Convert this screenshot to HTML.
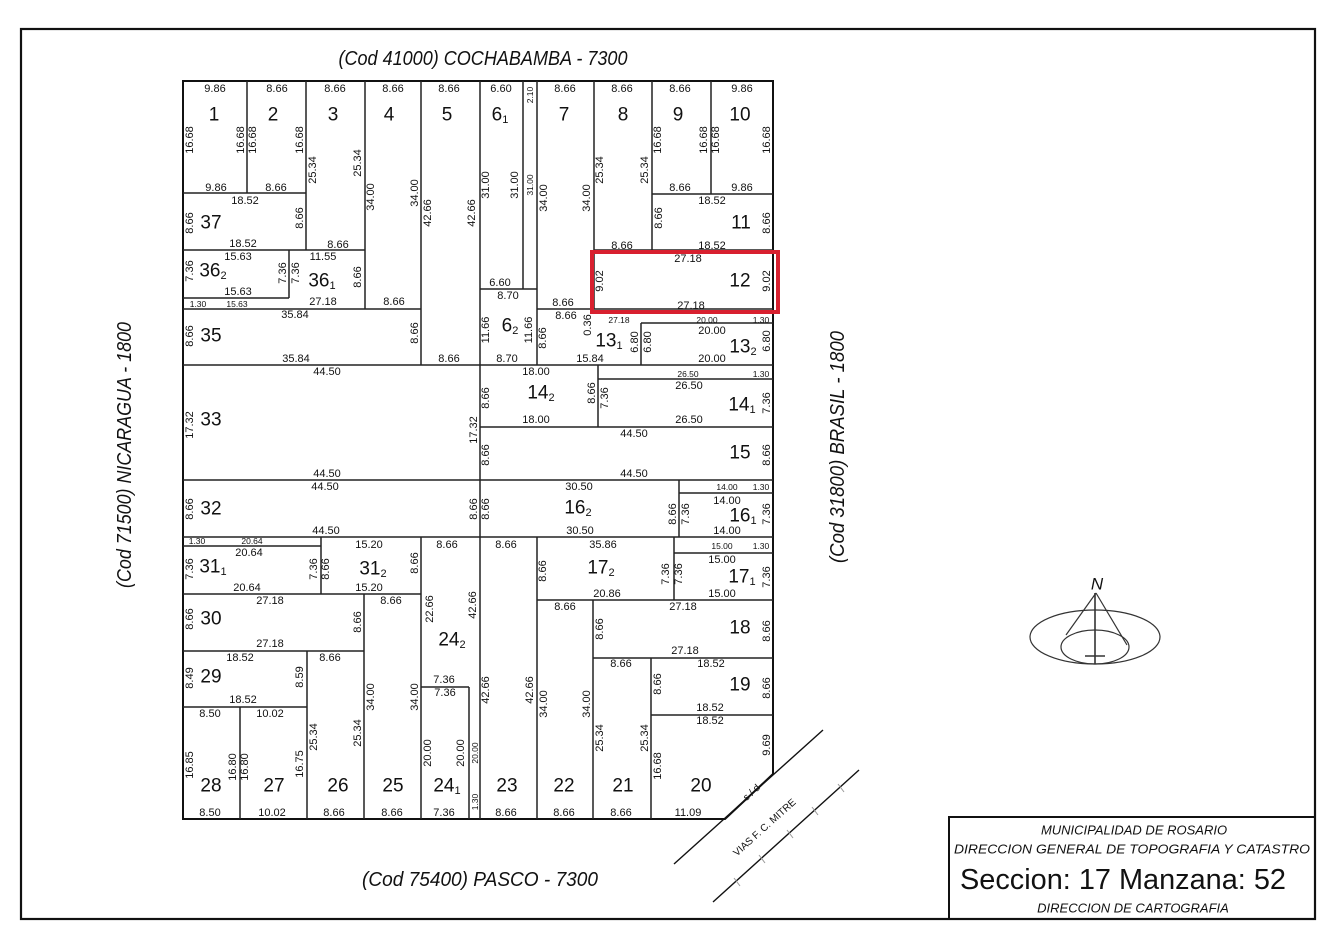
<!DOCTYPE html>
<html><head><meta charset="utf-8"><style>
html,body{margin:0;padding:0;background:#fff;width:1344px;height:950px;overflow:hidden}
svg{display:block}
text{font-family:"Liberation Sans Narrow","Liberation Sans",sans-serif;fill:#111}
.d{font-size:11px;text-anchor:middle;dominant-baseline:central}
.s{font-size:8.5px;text-anchor:middle;dominant-baseline:central}
.n{font-size:19px;text-anchor:middle;dominant-baseline:central}
.t{font-size:20px;font-style:italic;text-anchor:middle;dominant-baseline:central}
.h{font-size:13px;font-style:italic;text-anchor:middle;dominant-baseline:central}
.b{font-size:29px;text-anchor:middle;dominant-baseline:central}
.l{stroke:#222;stroke-width:1.5;fill:none}
</style></head><body>
<svg width="1344" height="950" viewBox="0 0 1344 950" xmlns="http://www.w3.org/2000/svg">
<rect x="21" y="29" width="1294" height="890" fill="none" stroke="#111" stroke-width="2.2"/>
<polygon points="183,81 773,81 773,774 725,819 183,819" fill="none" stroke="#111" stroke-width="2"/>
<path class="l" d="M247 81V193M306 81V250M183 193H306M183 250H365M365 81V309M421 81V365M183 298H289M289 250V298M183 309H421
M480 81V819M523 81V289M537 81V365M480 289H537M594 81V309M652 81V250M652 194H773M711 81V194M594 250H773M537 309H773M641 323H773M641 323V365M183 365H773
M598 365V427M598 379H773M480 427H773M183 480H773M679 480V537M679 493H773M183 537H773M183 546H321M321 537V594M421 537V819M537 537V819M674 537V600M674 553H773M183 594H421M537 600H773
M364 594V819M183 651H364M307 651V819M183 707H307M240 707V819M421 687H469M469 687V819M593 600V819M593 658H773M651 658V819M651 715H773"/>
<rect x="592" y="252" width="186" height="60" fill="none" stroke="#d8202f" stroke-width="4"/>
<!-- railway -->
<line x1="674" y1="864" x2="823" y2="730" stroke="#111" stroke-width="1.4"/>
<line x1="713" y1="902" x2="859" y2="770" stroke="#111" stroke-width="1.4"/>
<g stroke="#999" stroke-width="1"><line x1="734" y1="878" x2="740" y2="886"/><line x1="759" y1="855" x2="765" y2="863"/><line x1="787" y1="830" x2="793" y2="838"/><line x1="812" y1="807" x2="818" y2="815"/><line x1="838" y1="784" x2="844" y2="792"/></g>
<text class="d" x="765" y="828" transform="rotate(-42 765 828)" style="font-size:10px">VIAS F. C. MITRE</text>
<text class="d" x="752" y="793" transform="rotate(-42 752 793)" style="font-size:10px">s / d</text>
<!-- streets -->
<text class="t" x="483" y="59" textLength="289" lengthAdjust="spacingAndGlyphs">(Cod  41000)  COCHABAMBA - 7300</text>
<text class="t" x="480" y="880" textLength="236" lengthAdjust="spacingAndGlyphs">(Cod  75400)  PASCO - 7300</text>
<text class="t" x="125" y="455" transform="rotate(-90 125 455)" textLength="266" lengthAdjust="spacingAndGlyphs">(Cod  71500)  NICARAGUA - 1800</text>
<text class="t" x="838" y="447" transform="rotate(-90 838 447)" textLength="232" lengthAdjust="spacingAndGlyphs">(Cod  31800)  BRASIL - 1800</text>
<!-- compass -->
<g stroke="#333" stroke-width="1.2" fill="none">
<ellipse cx="1095" cy="637" rx="65" ry="27"/><ellipse cx="1095" cy="647" rx="34" ry="17"/>
<line x1="1096" y1="593" x2="1066" y2="635"/><line x1="1096" y1="593" x2="1127" y2="645"/>
<line x1="1095" y1="593" x2="1095" y2="664" stroke-width="1.6"/><line x1="1085" y1="656" x2="1105" y2="656" stroke-width="1.6"/>
</g>
<text x="1097" y="584" style="font-size:17px;text-anchor:middle;dominant-baseline:central;font-style:italic">N</text>
<!-- title box -->
<rect x="949" y="817" width="366" height="102" fill="none" stroke="#111" stroke-width="2"/>
<text class="h" x="1134" y="830">MUNICIPALIDAD DE ROSARIO</text>
<text class="h" x="1132" y="849" textLength="356" lengthAdjust="spacingAndGlyphs">DIRECCION GENERAL DE TOPOGRAFIA Y CATASTRO</text>
<text class="b" x="1123" y="880" textLength="326" lengthAdjust="spacingAndGlyphs">Seccion: 17  Manzana: 52</text>
<text class="h" x="1133" y="908">DIRECCION DE CARTOGRAFIA</text>
<!-- top row -->
<g class="d">
<text class="d" x="215" y="89">9.86</text><text class="d" x="277" y="89">8.66</text><text class="d" x="335" y="89">8.66</text><text class="d" x="393" y="89">8.66</text><text class="d" x="449" y="89">8.66</text><text class="d" x="501" y="89">6.60</text><text class="d" x="565" y="89">8.66</text><text class="d" x="622" y="89">8.66</text><text class="d" x="680" y="89">8.66</text><text class="d" x="742" y="89">9.86</text>
<text class="d" x="216" y="188">9.86</text><text class="d" x="276" y="188">8.66</text><text class="d" x="680" y="188">8.66</text><text class="d" x="742" y="188">9.86</text>
<text class="d" x="245" y="201">18.52</text><text class="d" x="243" y="244">18.52</text><text class="d" x="338" y="245">8.66</text>
<text class="d" x="712" y="201">18.52</text><text class="d" x="622" y="246">8.66</text><text class="d" x="712" y="246">18.52</text>
<text class="d" x="238" y="257">15.63</text><text class="d" x="238" y="292">15.63</text><text class="d" x="323" y="257">11.55</text><text class="d" x="323" y="302">27.18</text>
<text class="s" x="198" y="304">1.30</text><text class="s" x="237" y="304">15.63</text><text class="d" x="394" y="302">8.66</text>
<text class="d" x="500" y="283">6.60</text><text class="d" x="508" y="296">8.70</text><text class="d" x="563" y="303">8.66</text>
<text class="d" x="688" y="259">27.18</text><text class="d" x="691" y="306">27.18</text>
<text class="d" x="295" y="315">35.84</text><text class="d" x="296" y="359">35.84</text><text class="d" x="449" y="359">8.66</text>
<text class="d" x="566" y="316">8.66</text><text class="s" x="619" y="320">27.18</text><text class="d" x="507" y="359">8.70</text><text class="d" x="590" y="359">15.84</text>
<text class="s" x="707" y="320">20.00</text><text class="s" x="761" y="320">1.30</text><text class="d" x="712" y="331">20.00</text><text class="d" x="712" y="359">20.00</text>
<text class="d" x="327" y="372">44.50</text><text class="d" x="536" y="372">18.00</text><text class="s" x="688" y="374">26.50</text><text class="s" x="761" y="374">1.30</text>
<text class="d" x="689" y="386">26.50</text><text class="d" x="536" y="420">18.00</text><text class="d" x="689" y="420">26.50</text><text class="d" x="634" y="434">44.50</text>
<text class="d" x="327" y="474">44.50</text><text class="d" x="634" y="474">44.50</text>
<text class="d" x="325" y="487">44.50</text><text class="d" x="579" y="487">30.50</text><text class="s" x="727" y="487">14.00</text><text class="s" x="761" y="487">1.30</text>
<text class="d" x="727" y="501">14.00</text><text class="d" x="326" y="531">44.50</text><text class="d" x="580" y="531">30.50</text><text class="d" x="727" y="531">14.00</text>
<text class="s" x="197" y="541">1.30</text><text class="s" x="252" y="541">20.64</text><text class="d" x="369" y="545">15.20</text><text class="d" x="447" y="545">8.66</text><text class="d" x="506" y="545">8.66</text><text class="d" x="603" y="545">35.86</text><text class="s" x="722" y="546">15.00</text><text class="s" x="761" y="546">1.30</text>
<text class="d" x="249" y="553">20.64</text><text class="d" x="247" y="588">20.64</text><text class="d" x="369" y="588">15.20</text>
<text class="d" x="722" y="560">15.00</text><text class="d" x="607" y="594">20.86</text><text class="d" x="722" y="594">15.00</text>
<text class="d" x="270" y="601">27.18</text><text class="d" x="391" y="601">8.66</text><text class="d" x="270" y="644">27.18</text>
<text class="d" x="565" y="607">8.66</text><text class="d" x="683" y="607">27.18</text><text class="d" x="685" y="651">27.18</text>
<text class="d" x="240" y="658">18.52</text><text class="d" x="330" y="658">8.66</text><text class="d" x="243" y="700">18.52</text>
<text class="d" x="621" y="664">8.66</text><text class="d" x="711" y="664">18.52</text><text class="d" x="710" y="708">18.52</text><text class="d" x="710" y="721">18.52</text>
<text class="d" x="444" y="680">7.36</text><text class="d" x="445" y="693">7.36</text>
<text class="d" x="210" y="714">8.50</text><text class="d" x="270" y="714">10.02</text>
<text class="d" x="210" y="813">8.50</text><text class="d" x="272" y="813">10.02</text><text class="d" x="334" y="813">8.66</text><text class="d" x="392" y="813">8.66</text><text class="d" x="444" y="813">7.36</text><text class="d" x="506" y="813">8.66</text><text class="d" x="564" y="813">8.66</text><text class="d" x="621" y="813">8.66</text><text class="d" x="688" y="813">11.09</text>
</g>
<!-- vertical dims -->
<g>
<text class="s" x="530" y="95" transform="rotate(-90 530 95)">2.10</text>
<text class="d" x="190" y="140" transform="rotate(-90 190 140)">16.68</text><text class="d" x="241" y="140" transform="rotate(-90 241 140)">16.68</text><text class="d" x="253" y="140" transform="rotate(-90 253 140)">16.68</text><text class="d" x="300" y="140" transform="rotate(-90 300 140)">16.68</text>
<text class="d" x="313" y="170" transform="rotate(-90 313 170)">25.34</text><text class="d" x="358" y="163" transform="rotate(-90 358 163)">25.34</text>
<text class="d" x="371" y="197" transform="rotate(-90 371 197)">34.00</text><text class="d" x="415" y="193" transform="rotate(-90 415 193)">34.00</text>
<text class="d" x="428" y="213" transform="rotate(-90 428 213)">42.66</text><text class="d" x="472" y="213" transform="rotate(-90 472 213)">42.66</text>
<text class="d" x="486" y="185" transform="rotate(-90 486 185)">31.00</text><text class="d" x="515" y="185" transform="rotate(-90 515 185)">31.00</text><text class="s" x="530" y="185" transform="rotate(-90 530 185)">31.00</text>
<text class="d" x="544" y="198" transform="rotate(-90 544 198)">34.00</text><text class="d" x="587" y="198" transform="rotate(-90 587 198)">34.00</text>
<text class="d" x="600" y="170" transform="rotate(-90 600 170)">25.34</text><text class="d" x="645" y="170" transform="rotate(-90 645 170)">25.34</text>
<text class="d" x="658" y="140" transform="rotate(-90 658 140)">16.68</text><text class="d" x="704" y="140" transform="rotate(-90 704 140)">16.68</text><text class="d" x="716" y="140" transform="rotate(-90 716 140)">16.68</text><text class="d" x="767" y="140" transform="rotate(-90 767 140)">16.68</text>
<text class="d" x="190" y="223" transform="rotate(-90 190 223)">8.66</text><text class="d" x="300" y="218" transform="rotate(-90 300 218)">8.66</text>
<text class="d" x="659" y="218" transform="rotate(-90 659 218)">8.66</text><text class="d" x="767" y="223" transform="rotate(-90 767 223)">8.66</text>
<text class="d" x="190" y="271" transform="rotate(-90 190 271)">7.36</text><text class="d" x="283" y="273" transform="rotate(-90 283 273)">7.36</text><text class="d" x="296" y="273" transform="rotate(-90 296 273)">7.36</text><text class="d" x="358" y="277" transform="rotate(-90 358 277)">8.66</text>
<text class="d" x="600" y="281" transform="rotate(-90 600 281)">9.02</text><text class="d" x="767" y="281" transform="rotate(-90 767 281)">9.02</text>
<text class="d" x="190" y="336" transform="rotate(-90 190 336)">8.66</text><text class="d" x="415" y="333" transform="rotate(-90 415 333)">8.66</text>
<text class="d" x="486" y="330" transform="rotate(-90 486 330)">11.66</text><text class="d" x="529" y="330" transform="rotate(-90 529 330)">11.66</text><text class="d" x="543" y="338" transform="rotate(-90 543 338)">8.66</text><text class="d" x="588" y="325" transform="rotate(-90 588 325)">0.36</text>
<text class="d" x="635" y="342" transform="rotate(-90 635 342)">6.80</text><text class="d" x="648" y="342" transform="rotate(-90 648 342)">6.80</text><text class="d" x="767" y="341" transform="rotate(-90 767 341)">6.80</text>
<text class="d" x="486" y="398" transform="rotate(-90 486 398)">8.66</text><text class="d" x="592" y="393" transform="rotate(-90 592 393)">8.66</text><text class="d" x="605" y="398" transform="rotate(-90 605 398)">7.36</text><text class="d" x="767" y="403" transform="rotate(-90 767 403)">7.36</text>
<text class="d" x="190" y="425" transform="rotate(-90 190 425)">17.32</text><text class="d" x="474" y="430" transform="rotate(-90 474 430)">17.32</text>
<text class="d" x="486" y="455" transform="rotate(-90 486 455)">8.66</text><text class="d" x="767" y="455" transform="rotate(-90 767 455)">8.66</text>
<text class="d" x="190" y="509" transform="rotate(-90 190 509)">8.66</text><text class="d" x="474" y="509" transform="rotate(-90 474 509)">8.66</text><text class="d" x="486" y="509" transform="rotate(-90 486 509)">8.66</text>
<text class="d" x="673" y="514" transform="rotate(-90 673 514)">8.66</text><text class="d" x="686" y="514" transform="rotate(-90 686 514)">7.36</text><text class="d" x="767" y="514" transform="rotate(-90 767 514)">7.36</text>
<text class="d" x="190" y="569" transform="rotate(-90 190 569)">7.36</text><text class="d" x="314" y="569" transform="rotate(-90 314 569)">7.36</text><text class="d" x="326" y="569" transform="rotate(-90 326 569)">8.66</text><text class="d" x="415" y="563" transform="rotate(-90 415 563)">8.66</text>
<text class="d" x="543" y="571" transform="rotate(-90 543 571)">8.66</text><text class="d" x="666" y="574" transform="rotate(-90 666 574)">7.36</text><text class="d" x="679" y="574" transform="rotate(-90 679 574)">7.36</text><text class="d" x="767" y="577" transform="rotate(-90 767 577)">7.36</text>
<text class="d" x="430" y="609" transform="rotate(-90 430 609)">22.66</text><text class="d" x="473" y="605" transform="rotate(-90 473 605)">42.66</text>
<text class="d" x="190" y="619" transform="rotate(-90 190 619)">8.66</text><text class="d" x="358" y="622" transform="rotate(-90 358 622)">8.66</text>
<text class="d" x="600" y="629" transform="rotate(-90 600 629)">8.66</text><text class="d" x="767" y="631" transform="rotate(-90 767 631)">8.66</text>
<text class="d" x="190" y="678" transform="rotate(-90 190 678)">8.49</text><text class="d" x="300" y="677" transform="rotate(-90 300 677)">8.59</text>
<text class="d" x="658" y="684" transform="rotate(-90 658 684)">8.66</text><text class="d" x="767" y="688" transform="rotate(-90 767 688)">8.66</text>
<text class="d" x="371" y="697" transform="rotate(-90 371 697)">34.00</text><text class="d" x="415" y="697" transform="rotate(-90 415 697)">34.00</text>
<text class="d" x="486" y="690" transform="rotate(-90 486 690)">42.66</text><text class="d" x="530" y="690" transform="rotate(-90 530 690)">42.66</text>
<text class="d" x="544" y="704" transform="rotate(-90 544 704)">34.00</text><text class="d" x="587" y="704" transform="rotate(-90 587 704)">34.00</text>
<text class="d" x="314" y="737" transform="rotate(-90 314 737)">25.34</text><text class="d" x="358" y="733" transform="rotate(-90 358 733)">25.34</text>
<text class="d" x="600" y="738" transform="rotate(-90 600 738)">25.34</text><text class="d" x="645" y="738" transform="rotate(-90 645 738)">25.34</text>
<text class="d" x="658" y="766" transform="rotate(-90 658 766)">16.68</text><text class="d" x="767" y="745" transform="rotate(-90 767 745)">9.69</text>
<text class="d" x="190" y="765" transform="rotate(-90 190 765)">16.85</text><text class="d" x="233" y="767" transform="rotate(-90 233 767)">16.80</text><text class="d" x="245" y="767" transform="rotate(-90 245 767)">16.80</text><text class="d" x="300" y="764" transform="rotate(-90 300 764)">16.75</text>
<text class="d" x="428" y="753" transform="rotate(-90 428 753)">20.00</text><text class="d" x="461" y="753" transform="rotate(-90 461 753)">20.00</text><text class="s" x="475" y="753" transform="rotate(-90 475 753)">20.00</text><text class="s" x="475" y="802" transform="rotate(-90 475 802)">1.30</text>
</g>
<!-- lot numbers -->
<g>
<text class="n" x="214" y="115">1</text><text class="n" x="273" y="115">2</text><text class="n" x="333" y="115">3</text><text class="n" x="389" y="115">4</text><text class="n" x="447" y="115">5</text><text class="n" x="500" y="115">6<tspan font-size="11" dy="5">1</tspan></text><text class="n" x="564" y="115">7</text><text class="n" x="623" y="115">8</text><text class="n" x="678" y="115">9</text><text class="n" x="740" y="115">10</text>
<text class="n" x="211" y="223">37</text><text class="n" x="741" y="223">11</text>
<text class="n" x="213" y="271">36<tspan font-size="11" dy="5">2</tspan></text><text class="n" x="322" y="281">36<tspan font-size="11" dy="5">1</tspan></text><text class="n" x="740" y="281">12</text>
<text class="n" x="211" y="336">35</text><text class="n" x="510" y="326">6<tspan font-size="11" dy="5">2</tspan></text><text class="n" x="609" y="341">13<tspan font-size="11" dy="5">1</tspan></text><text class="n" x="743" y="347">13<tspan font-size="11" dy="5">2</tspan></text>
<text class="n" x="541" y="393">14<tspan font-size="11" dy="5">2</tspan></text><text class="n" x="742" y="405">14<tspan font-size="11" dy="5">1</tspan></text>
<text class="n" x="211" y="420">33</text><text class="n" x="740" y="453">15</text>
<text class="n" x="211" y="509">32</text><text class="n" x="578" y="508">16<tspan font-size="11" dy="5">2</tspan></text><text class="n" x="743" y="516">16<tspan font-size="11" dy="5">1</tspan></text>
<text class="n" x="213" y="567">31<tspan font-size="11" dy="5">1</tspan></text><text class="n" x="373" y="569">31<tspan font-size="11" dy="5">2</tspan></text><text class="n" x="601" y="568">17<tspan font-size="11" dy="5">2</tspan></text><text class="n" x="742" y="577">17<tspan font-size="11" dy="5">1</tspan></text>
<text class="n" x="211" y="619">30</text><text class="n" x="452" y="640">24<tspan font-size="11" dy="5">2</tspan></text><text class="n" x="740" y="628">18</text>
<text class="n" x="211" y="677">29</text><text class="n" x="740" y="685">19</text>
<text class="n" x="211" y="786">28</text><text class="n" x="274" y="786">27</text><text class="n" x="338" y="786">26</text><text class="n" x="393" y="786">25</text><text class="n" x="447" y="786">24<tspan font-size="11" dy="5">1</tspan></text><text class="n" x="507" y="786">23</text><text class="n" x="564" y="786">22</text><text class="n" x="623" y="786">21</text><text class="n" x="701" y="786">20</text>
</g>
</svg>
</body></html>
